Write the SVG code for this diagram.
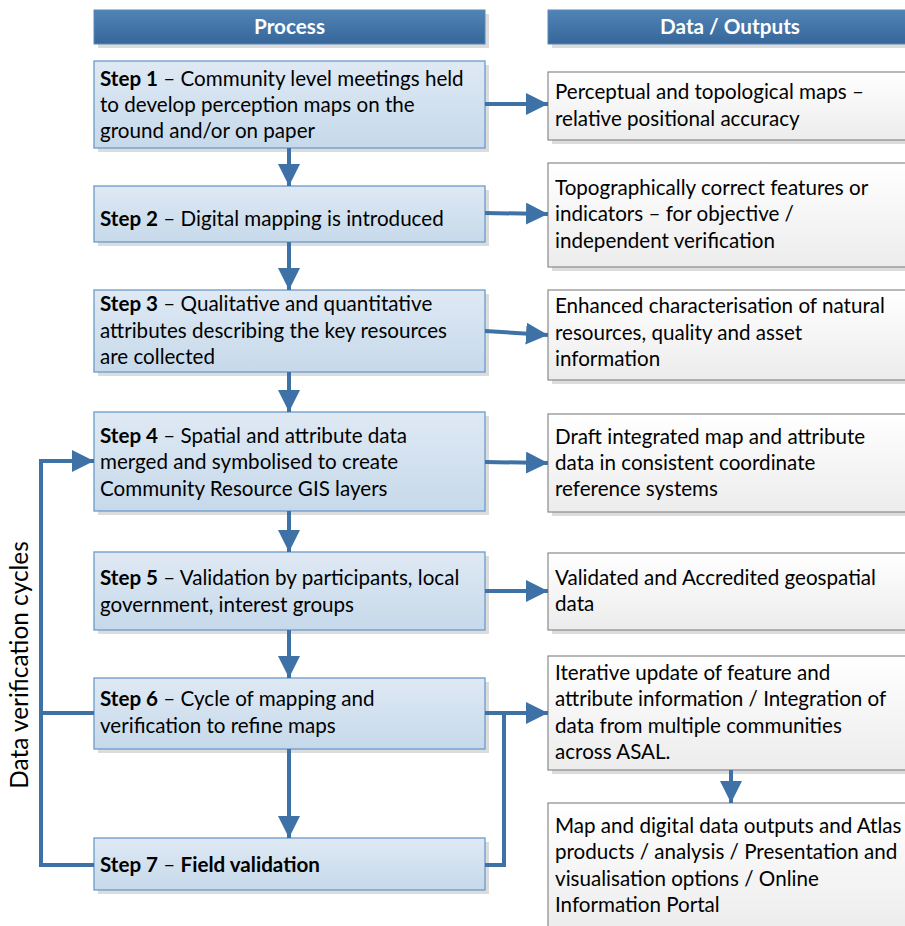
<svg xmlns="http://www.w3.org/2000/svg" width="905" height="926" viewBox="0 0 905 926">
<defs>
<linearGradient id="gHead" x1="0" y1="0" x2="0" y2="1"><stop offset="0" stop-color="#5184b6"/><stop offset="1" stop-color="#36669a"/></linearGradient>
<linearGradient id="gStep" x1="0" y1="0" x2="0" y2="1"><stop offset="0" stop-color="#dfe9f4"/><stop offset="1" stop-color="#c6d9ea"/></linearGradient>
<linearGradient id="gOut" x1="0" y1="0" x2="0" y2="1"><stop offset="0" stop-color="#ffffff"/><stop offset="1" stop-color="#ececec"/></linearGradient>
<marker id="ah" viewBox="0 0 10 10" refX="10" refY="5" markerWidth="5.5" markerHeight="5.5" orient="auto" markerUnits="strokeWidth"><path d="M0,0 L10,5 L0,10 z" fill="#3e72a6"/></marker>
</defs>
<style>
.sh{fill:#dcdcdc}
.head{fill:url(#gHead);stroke:#5a88b8;stroke-width:1}
.step{fill:url(#gStep);stroke:#6b9bc9;stroke-width:1.3}
.out{fill:url(#gOut);stroke:#8a8a8a;stroke-width:1.2}
text{font-family:Lato,"Open Sans","Liberation Sans",sans-serif;font-size:20.6px;fill:#000}
.ht{fill:#fff;font-weight:bold;font-size:20.7px}
.b{font-weight:bold}
.c{fill:none;stroke:#3e72a6;stroke-width:4}
</style>
<rect width="905" height="926" fill="#fff"/>
<g id="header-process"><rect class="sh" x="98" y="14" width="391" height="34"/><rect class="head" x="94" y="10" width="391" height="34"/><text class="ht" x="289.5" y="34" text-anchor="middle">Process</text></g>
<g id="header-data"><rect class="sh" x="552" y="14" width="360" height="34"/><rect class="head" x="548" y="10" width="360" height="34"/><text class="ht" x="730" y="34" text-anchor="middle">Data / Outputs</text></g>

<g id="step1"><rect class="sh" x="98" y="65" width="391" height="87"/><rect class="step" x="94" y="61" width="391" height="87"/><text x="100" y="86"><tspan class="b">Step 1</tspan> – Community level meetings held</text><text x="100" y="112">to develop perception maps on the</text><text x="100" y="138">ground and/or on paper</text></g>
<g id="step2"><rect class="sh" x="98" y="190" width="391" height="56"/><rect class="step" x="94" y="186" width="391" height="56"/><text x="100" y="226"><tspan class="b">Step 2</tspan> – Digital mapping is introduced</text></g>
<g id="step3"><rect class="sh" x="98" y="294" width="391" height="82"/><rect class="step" x="94" y="290" width="391" height="82"/><text x="100" y="311"><tspan class="b">Step 3</tspan> – Qualitative and quantitative</text><text x="100" y="338">attributes describing the key resources</text><text x="100" y="364">are collected</text></g>
<g id="step4"><rect class="sh" x="98" y="416" width="391" height="99"/><rect class="step" x="94" y="412" width="391" height="99"/><text x="100" y="443"><tspan class="b">Step 4</tspan> – Spatial and attribute data</text><text x="100" y="469">merged and symbolised to create</text><text x="100" y="496">Community Resource GIS layers</text></g>
<g id="step5"><rect class="sh" x="98" y="556" width="391" height="78"/><rect class="step" x="94" y="552" width="391" height="78"/><text x="100" y="585"><tspan class="b">Step 5</tspan> – Validation by participants, local</text><text x="100" y="612">government, interest groups</text></g>
<g id="step6"><rect class="sh" x="98" y="682" width="391" height="71"/><rect class="step" x="94" y="678" width="391" height="71"/><text x="100" y="706"><tspan class="b">Step 6</tspan> – Cycle of mapping and</text><text x="100" y="733">verification to refine maps</text></g>
<g id="step7"><rect class="sh" x="98" y="842" width="391" height="52"/><rect class="step" x="94" y="838" width="391" height="52"/><text x="100" y="872"><tspan class="b">Step 7</tspan> – <tspan class="b">Field validation</tspan></text></g>

<g id="out1"><rect class="sh" x="552" y="76" width="360" height="68"/><rect class="out" x="548" y="72" width="360" height="68"/><text x="555" y="99">Perceptual and topological maps –</text><text x="555" y="126">relative positional accuracy</text></g>
<g id="out2"><rect class="sh" x="552" y="167" width="360" height="104"/><rect class="out" x="548" y="163" width="360" height="104"/><text x="555" y="195">Topographically correct features or</text><text x="555" y="221">indicators – for objective /</text><text x="555" y="248">independent verification</text></g>
<g id="out3"><rect class="sh" x="552" y="294" width="360" height="90"/><rect class="out" x="548" y="290" width="360" height="90"/><text x="555" y="313">Enhanced characterisation of natural</text><text x="555" y="340">resources, quality and asset</text><text x="555" y="366">information</text></g>
<g id="out4"><rect class="sh" x="552" y="418" width="360" height="98"/><rect class="out" x="548" y="414" width="360" height="98"/><text x="555" y="444">Draft integrated map and attribute</text><text x="555" y="470">data in consistent coordinate</text><text x="555" y="496">reference systems</text></g>
<g id="out5"><rect class="sh" x="552" y="557" width="360" height="77"/><rect class="out" x="548" y="553" width="360" height="77"/><text x="555" y="585">Validated and Accredited geospatial</text><text x="555" y="611">data</text></g>
<g id="out6"><rect class="sh" x="552" y="660" width="360" height="114"/><rect class="out" x="548" y="656" width="360" height="114"/><text x="555" y="680">Iterative update of feature and</text><text x="555" y="706">attribute information / Integration of</text><text x="555" y="733">data from multiple communities</text><text x="555" y="759">across ASAL.</text></g>
<g id="out7"><rect class="sh" x="552" y="807" width="360" height="130"/><rect class="out" x="548" y="803" width="360" height="130"/><text x="555" y="833">Map and digital data outputs and Atlas</text><text x="555" y="859">products / analysis / Presentation and</text><text x="555" y="886">visualisation options / Online</text><text x="555" y="912">Information Portal</text></g>

<g id="label"><text transform="translate(28,665) rotate(-90)" text-anchor="middle" style="font-size:24.4px">Data verification cycles</text></g>

<g id="connectors">
<path class="c" d="M289,148 V186" marker-end="url(#ah)"/>
<path class="c" d="M289,242 V290" marker-end="url(#ah)"/>
<path class="c" d="M289,372 V412" marker-end="url(#ah)"/>
<path class="c" d="M289,511 V552" marker-end="url(#ah)"/>
<path class="c" d="M289,630 V678" marker-end="url(#ah)"/>
<path class="c" d="M289,749 V838" marker-end="url(#ah)"/>
<path class="c" d="M485,104 H548" marker-end="url(#ah)"/>
<path class="c" d="M485,213 L548,214" marker-end="url(#ah)"/>
<path class="c" d="M485,331 L548,335" marker-end="url(#ah)"/>
<path class="c" d="M485,462 L548,463" marker-end="url(#ah)"/>
<path class="c" d="M485,591 H548" marker-end="url(#ah)"/>
<path class="c" d="M485,713 H548" marker-end="url(#ah)"/>
<path class="c" d="M485,865 H504 V713"/>
<path class="c" d="M731,770 V803" marker-end="url(#ah)"/>
<path class="c" d="M94,865 H41 V461 H94" marker-end="url(#ah)"/>
<path class="c" d="M94,713 H41"/>
</g>
</svg>
